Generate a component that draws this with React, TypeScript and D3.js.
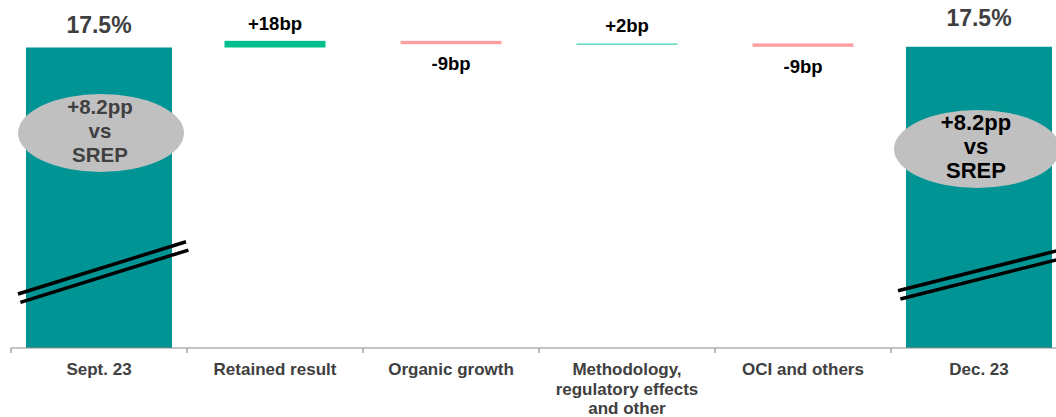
import React from "react";
import * as d3 from "d3";

const categories = [
  "Sept. 23",
  "Retained result",
  "Organic growth",
  "Methodology, regulatory effects and other",
  "OCI and others",
  "Dec. 23",
];
const categoryLines = [
  ["Sept. 23"],
  ["Retained result"],
  ["Organic growth"],
  ["Methodology,", "regulatory effects", "and other"],
  ["OCI and others"],
  ["Dec. 23"],
];
const kinds = ["total", "delta", "delta", "delta", "delta", "total"];
// CET1 ratio in %, deltas in percentage points
const startValue = 17.5;
const deltas = [0.18, -0.09, 0.02, -0.09];
const valueLabels = ["17.5%", "+18bp", "-9bp", "+2bp", "-9bp", "17.5%"];
const ellipseLines = ["+8.2pp", "vs", "SREP"];

const W = 1056;
const H = 417;

export default function App() {
  const x = d3.scaleBand<string>().domain(categories).range([11, 1067]).paddingInner(0).paddingOuter(0);
  const y = d3.scaleLinear().domain([17.3, 17.7]).range([54.9, 40.1]);
  const baseY = 348;
  const bw = x.bandwidth();

  type Bar = { cat: string; kind: string; y0: number; y1: number; delta: number; label: string; lines: string[] };
  const bars: Bar[] = [];
  let running = startValue;
  bars.push({ cat: categories[0], kind: "total", y0: startValue, y1: startValue, delta: 0, label: valueLabels[0], lines: categoryLines[0] });
  deltas.forEach((d, i) => {
    const a = running;
    running = running + d;
    bars.push({ cat: categories[i + 1], kind: kinds[i + 1], y0: a, y1: running, delta: d, label: valueLabels[i + 1], lines: categoryLines[i + 1] });
  });
  bars.push({ cat: categories[5], kind: "total", y0: running, y1: running, delta: 0, label: valueLabels[5], lines: categoryLines[5] });

  const deltaColors = ["#00BF8C", "#FF9E9E", "#5FD9BC", "#FF9E9E"];
  const teal = "#009594";

  return (
    <svg width={W} height={H} style={{ position: "absolute", left: 0, top: 0, background: "#fff" }} fontFamily="'Liberation Sans', Arial, sans-serif">
      {bars.map((b, i) => {
        const bx = x(b.cat)!;
        const cx = bx + bw / 2;
        if (b.kind === "total") {
          const top = y(b.y1);
          const w = 146;
          const left = cx - w / 2;
          const isEnd = i === bars.length - 1;
          const ecx = cx + (isEnd ? -2 : 2);
          const ecy = isEnd ? 149 : 133;
          const fs = isEnd ? 22 : 20.5;
          const slope = isEnd ? -0.251 : -0.311;
          const lx0 = left - 8;
          const lx1 = left + w + 14;
          const ly0 = isEnd ? 290.7 : 294;
          return (
            <g key={b.cat}>
              <rect x={left} y={top} width={w} height={baseY - top} fill={teal} />
              <text x={cx} y={top - (isEnd ? 21 : 14.5)} textAnchor="middle" fontSize={23} fontWeight="bold" fill="#404040">
                {b.label}
              </text>
              <ellipse cx={ecx} cy={ecy} rx={83} ry={39} fill="#C0C0C0" />
              {ellipseLines.map((t, k) => (
                <text key={k} x={ecx - 1} y={ecy - 19 + k * 24} textAnchor="middle" fontSize={fs} fontWeight="bold" fill={isEnd ? "#000" : "#404040"}>
                  {t}
                </text>
              ))}
              <line x1={lx0} y1={ly0} x2={lx1} y2={ly0 + slope * (lx1 - lx0)} stroke="#000" strokeWidth={3.5} />
              <line x1={lx0 + 2.4} y1={ly0 + 8.3} x2={lx1 + 2.4} y2={ly0 + 8.3 + slope * (lx1 - lx0)} stroke="#000" strokeWidth={3.5} />
            </g>
          );
        }
        const w = 101;
        const left = cx - w / 2;
        const top = Math.min(y(b.y0), y(b.y1));
        const bottom = Math.max(y(b.y0), y(b.y1));
        const col = deltaColors[i - 1];
        return (
          <g key={b.cat}>
            <rect x={left} y={top} width={w} height={Math.max(bottom - top, 1.5)} fill={col} />
            <text
              x={cx}
              y={b.delta >= 0 ? top - 11 : bottom + 26}
              textAnchor="middle"
              fontSize={18.5}
              fontWeight="bold"
              fill="#000"
            >
              {b.label}
            </text>
          </g>
        );
      })}
      <line x1={11} y1={baseY} x2={W} y2={baseY} stroke="#8C8C8C" strokeWidth={1.2} />
      {categories.map((c) => (
        <line key={c} x1={x(c)!} y1={baseY} x2={x(c)!} y2={baseY + 5} stroke="#8C8C8C" strokeWidth={1.2} />
      ))}
      {bars.map((b) => (
        <text key={b.cat} x={x(b.cat)! + bw / 2} y={375} textAnchor="middle" fontSize={17} fontWeight="bold" fill="#404040">
          {b.lines.map((l, k) => (
            <tspan key={k} x={x(b.cat)! + bw / 2} dy={k === 0 ? 0 : 19.5}>
              {l}
            </tspan>
          ))}
        </text>
      ))}
    </svg>
  );
}
